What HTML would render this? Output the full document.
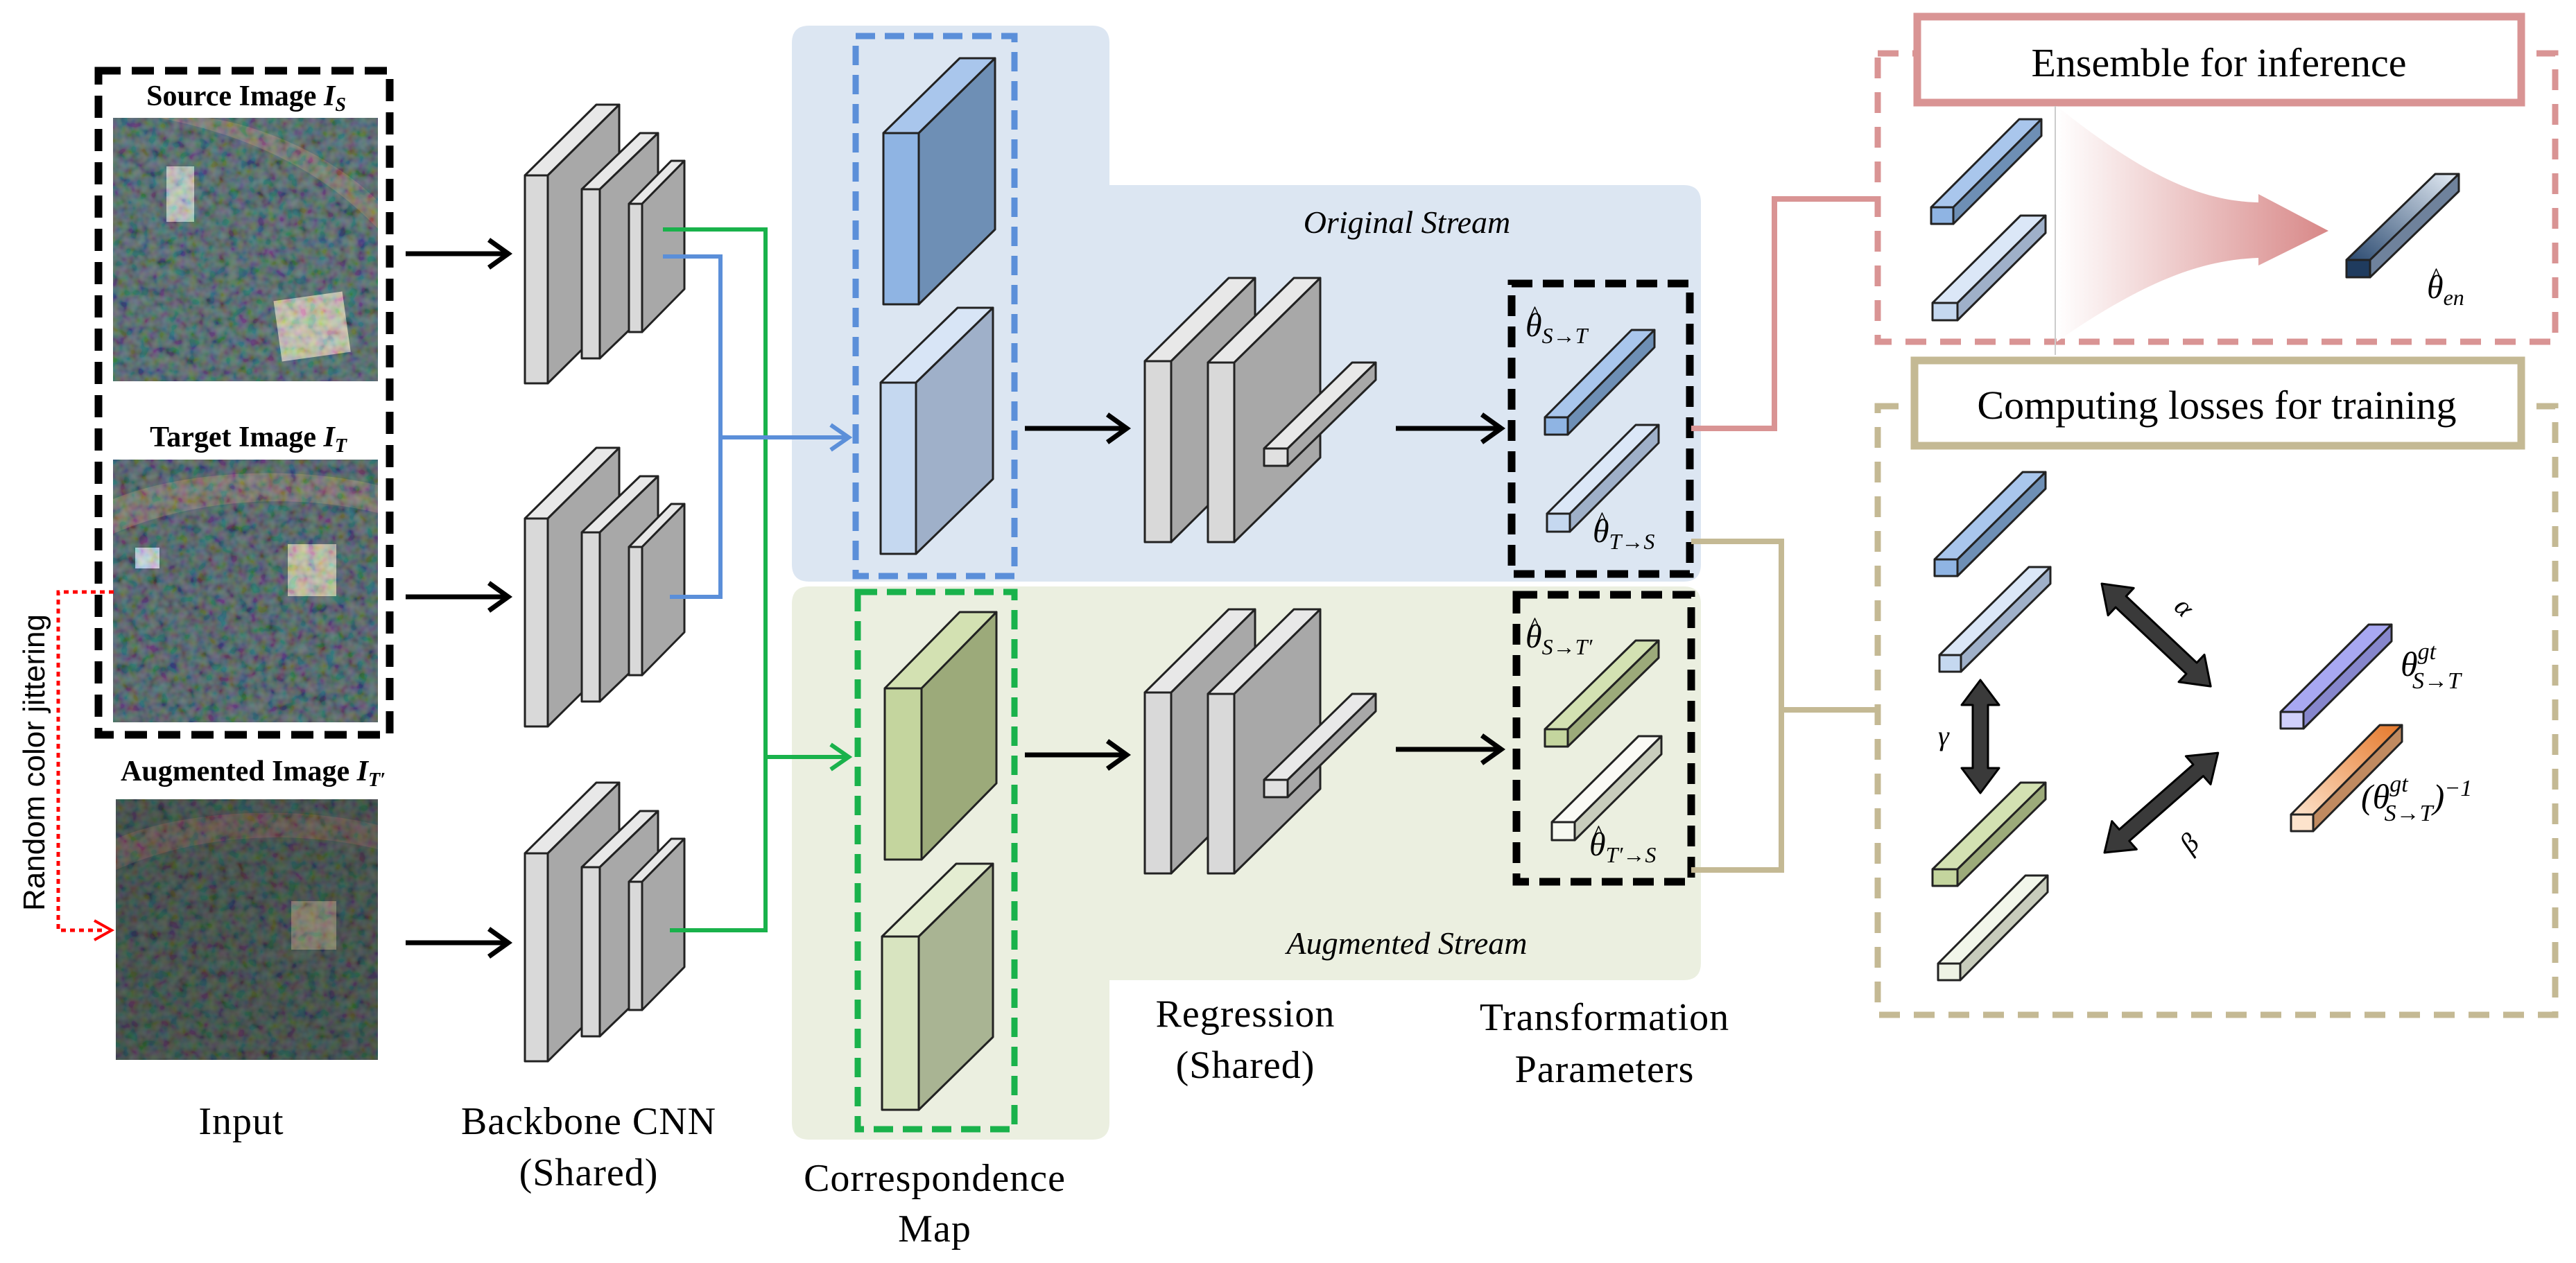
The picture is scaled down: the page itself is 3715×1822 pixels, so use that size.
<!DOCTYPE html>
<html><head><meta charset="utf-8"><style>
html,body{margin:0;padding:0;background:#fff}
svg{display:block}
svg text{font-family:"Liberation Serif","Times New Roman","DejaVu Serif",serif}
svg text.sans{font-family:"Liberation Sans","DejaVu Sans",sans-serif}
</style></head><body>
<svg width="3715" height="1822" viewBox="0 0 3715 1822" xmlns="http://www.w3.org/2000/svg">
<defs>
<filter id="tex" x="0" y="0" width="100%" height="100%">
<feTurbulence type="fractalNoise" baseFrequency="0.07" numOctaves="2" seed="4"/>
<feColorMatrix type="matrix" values="1.1 0 0 0 -0.35  0 1.2 0 0 -0.3  0 0 1.3 0 -0.3  0 0 0 0 0.3"/>
</filter>
<linearGradient id="pinkArrow" x1="0" x2="1" y1="0" y2="0">
<stop offset="0" stop-color="#ffffff"/><stop offset="1" stop-color="#d88888"/></linearGradient>
<linearGradient id="navy" x1="0" x2="1" y1="1" y2="0">
<stop offset="0" stop-color="#2b4a70"/><stop offset="1" stop-color="#e4ecf5"/></linearGradient>
<linearGradient id="orng" x1="0" x2="1" y1="1" y2="0">
<stop offset="0" stop-color="#fde3cc"/><stop offset="1" stop-color="#e5782a"/></linearGradient>
<g id="cnn" stroke="#222" stroke-width="3" stroke-linejoin="round">
<polygon points="757,253 860,151 893,151 790,253" fill="#e8e8e8"/>
<polygon points="790,253 893,151 893,451 790,553" fill="#a8a8a8"/>
<rect x="757" y="253" width="33" height="300" fill="#d9d9d9"/>
<polygon points="839,273 923,192 949,192 865,273" fill="#e8e8e8"/>
<polygon points="865,273 949,192 949,436 865,517" fill="#a8a8a8"/>
<rect x="839" y="273" width="26" height="244" fill="#d9d9d9"/>
<polygon points="907,294 968,232 987,232 926,294" fill="#e8e8e8"/>
<polygon points="926,294 987,232 987,417 926,479" fill="#a8a8a8"/>
<rect x="907" y="294" width="19" height="185" fill="#d9d9d9"/>
</g>
<g id="reg" stroke="#222" stroke-width="3" stroke-linejoin="round">
<polygon points="1651,521 1772,401 1810,401 1689,521" fill="#e8e8e8"/>
<polygon points="1689,521 1810,401 1810,662 1689,782" fill="#a8a8a8"/>
<rect x="1651" y="521" width="38" height="261" fill="#d9d9d9"/>
<polygon points="1742,523 1866,401 1904,401 1780,523" fill="#e8e8e8"/>
<polygon points="1780,523 1904,401 1904,660 1780,782" fill="#a8a8a8"/>
<rect x="1742" y="523" width="38" height="259" fill="#d9d9d9"/>
<polygon points="1823,647 1950,523 1984,523 1857,647" fill="#e8e8e8"/>
<polygon points="1857,647 1984,523 1984,548 1857,672" fill="#a8a8a8"/>
<rect x="1823" y="647" width="34" height="25" fill="#e0e0e0"/>
</g>
</defs>

<path d="M1167,37 H1575 Q1600,37 1600,62 V267 H2428 Q2453,267 2453,292 V814 Q2453,839 2428,839 H1167 Q1142,839 1142,814 V62 Q1142,37 1167,37 Z" fill="#dce6f2"/>
<path d="M1167,846 H2428 Q2453,846 2453,871 V1389 Q2453,1414 2428,1414 H1600 V1619 Q1600,1644 1575,1644 H1167 Q1142,1644 1142,1619 V871 Q1142,846 1167,846 Z" fill="#ebefe0"/>

<g>
<rect x="163" y="170" width="382" height="380" fill="#4f605f"/>
<path d="M230,170 C330,190 450,230 545,330 L545,290 C470,215 360,178 300,170 Z" fill="#7d7463"/>
<rect x="400" y="427" width="100" height="88" fill="#d8cdb0" transform="rotate(-8 450 470)"/>
<rect x="240" y="240" width="40" height="80" fill="#cfd0c6"/>
<rect x="163" y="170" width="382" height="380" filter="url(#tex)"/>
</g>
<g>
<rect x="163" y="663" width="382" height="379" fill="#4c5859"/>
<path d="M163,720 C260,680 420,670 545,700 L545,740 C420,710 280,720 163,770 Z" fill="#7a6e60"/>
<rect x="415" y="785" width="70" height="75" fill="#d6c9a8"/>
<rect x="195" y="790" width="35" height="30" fill="#d8dfe8"/>
<rect x="163" y="663" width="382" height="379" filter="url(#tex)"/>
</g>
<g>
<rect x="167" y="1153" width="378" height="376" fill="#3a433b"/>
<path d="M167,1210 C260,1170 420,1160 545,1190 L545,1225 C420,1195 280,1205 167,1255 Z" fill="#5a4a40"/>
<rect x="420" y="1300" width="65" height="70" fill="#847860"/>
<rect x="167" y="1153" width="378" height="376" filter="url(#tex)" opacity="0.7"/>
</g>

<rect x="142" y="102" width="420" height="958" fill="none" stroke="#000" stroke-width="11" stroke-dasharray="32,16"/>
<g font-size="42" font-weight="bold" text-anchor="middle">
<text x="355" y="152">Source Image <tspan font-style="italic">I</tspan><tspan font-style="italic" font-size="28" dy="8">S</tspan></text>
<text x="358" y="644">Target Image <tspan font-style="italic">I</tspan><tspan font-style="italic" font-size="28" dy="8">T</tspan></text>
<text x="365" y="1126">Augmented Image <tspan font-style="italic">I</tspan><tspan font-style="italic" font-size="28" dy="8">T′</tspan></text>
</g>
<text class="sans" transform="translate(64,1100) rotate(-90)" text-anchor="middle" font-size="44">Random color jittering</text>
<path d="M164,854 H84 V1342 H150" fill="none" stroke="#f00" stroke-width="5" stroke-dasharray="7,6"/>
<path d="M136,1328 L161,1342 L136,1356" fill="none" stroke="#f00" stroke-width="4"/>

<g stroke="#000" stroke-width="7" fill="none">
<path d="M585,366 H730 M705,346 L733,366 L705,386"/>
<path d="M585,861 H730 M705,841 L733,861 L705,881"/>
<path d="M585,1360 H730 M705,1340 L733,1360 L705,1380"/>
<path d="M1478,618 H1622 M1597,598 L1625,618 L1597,638"/>
<path d="M1478,1089 H1622 M1597,1069 L1625,1089 L1597,1109"/>
<path d="M2013,618 H2162 M2137,598 L2165,618 L2137,638"/>
<path d="M2013,1081 H2162 M2137,1061 L2165,1081 L2137,1101"/>
</g>

<use href="#cnn"/>
<use href="#cnn" y="495"/>
<use href="#cnn" y="978"/>

<g fill="none" stroke-width="6">
<path d="M956,331 H1104 V1342 H966" stroke="#19b24b"/>
<path d="M1104,1092 H1222 M1198,1074 L1224,1092 L1198,1110" stroke="#19b24b"/>
<path d="M956,370 H1039 V861 H966" stroke="#5b8fd9"/>
<path d="M1039,631 H1222 M1198,613 L1224,631 L1198,649" stroke="#5b8fd9"/>
</g>

<g stroke="#222" stroke-width="3" stroke-linejoin="round">
<polygon points="1274,192 1384,84 1435,84 1325,192" fill="#a9c6ec"/>
<polygon points="1325,192 1435,84 1435,331 1325,439" fill="#6e8fb5"/>
<rect x="1274" y="192" width="51" height="247" fill="#8fb4e3"/>
<polygon points="1270,552 1381,444 1432,444 1321,552" fill="#d8e5f6"/>
<polygon points="1321,552 1432,444 1432,691 1321,799" fill="#9fb0c9"/>
<rect x="1270" y="552" width="51" height="247" fill="#c5d8f0"/>
<polygon points="1276,993 1384,883 1437,883 1329,993" fill="#d3e1b2"/>
<polygon points="1329,993 1437,883 1437,1130 1329,1240" fill="#9caa7a"/>
<rect x="1276" y="993" width="53" height="247" fill="#c4d59e"/>
<polygon points="1272,1351 1379,1246 1432,1246 1325,1351" fill="#e4edd2"/>
<polygon points="1325,1351 1432,1246 1432,1496 1325,1601" fill="#a9b493"/>
<rect x="1272" y="1351" width="53" height="250" fill="#d8e4c0"/>
</g>
<rect x="1234" y="52" width="229" height="779" fill="none" stroke="#5b8fd9" stroke-width="9" stroke-dasharray="28,14"/>
<rect x="1237" y="854" width="226" height="775" fill="none" stroke="#19b24b" stroke-width="9" stroke-dasharray="28,14"/>

<use href="#reg"/>
<use href="#reg" y="478"/>

<g stroke="#222" stroke-width="3" stroke-linejoin="round">
<polygon points="2228,602 2353,476 2386,476 2261,602" fill="#a9c6ec"/>
<polygon points="2261,602 2386,476 2386,501 2261,627" fill="#6e8fb5"/>
<rect x="2228" y="602" width="33" height="25" fill="#8fb4e3"/>
<polygon points="2231,741 2359,613 2392,613 2264,741" fill="#dbe7f7"/>
<polygon points="2264,741 2392,613 2392,639 2264,767" fill="#9fb0c9"/>
<rect x="2231" y="741" width="33" height="26" fill="#c5d8f0"/>
<polygon points="2228,1052 2359,924 2392,924 2261,1052" fill="#d3e1b2"/>
<polygon points="2261,1052 2392,924 2392,949 2261,1077" fill="#9caa7a"/>
<rect x="2228" y="1052" width="33" height="25" fill="#c4d59e"/>
<polygon points="2238,1186 2363,1062 2396,1062 2271,1186" fill="#fafaf5"/>
<polygon points="2271,1186 2396,1062 2396,1088 2271,1212" fill="#c8ccbc"/>
<rect x="2238" y="1186" width="33" height="26" fill="#f6f8f0"/>
</g>
<rect x="2180" y="409" width="257" height="419" fill="none" stroke="#000" stroke-width="11" stroke-dasharray="30,15"/>
<rect x="2187" y="858" width="252" height="414" fill="none" stroke="#000" stroke-width="11" stroke-dasharray="30,15"/>
<g font-style="italic" font-size="48">
<text x="2200" y="485">θ<tspan font-size="32" dy="10">S→T</tspan></text>
<text x="2297" y="782">θ<tspan font-size="32" dy="10">T→S</tspan></text>
<text x="2200" y="934">θ<tspan font-size="32" dy="10">S→T′</tspan></text>
<text x="2292" y="1234">θ<tspan font-size="32" dy="10">T′→S</tspan></text>
<text x="3500" y="430">θ<tspan font-size="32" dy="10">en</tspan></text>
</g>
<g font-size="36">
<text x="2205" y="466">^</text>
<text x="2302" y="763">^</text>
<text x="2205" y="915">^</text>
<text x="2297" y="1215">^</text>
<text x="3505" y="411">^</text>
</g>
<text x="2029" y="336" text-anchor="middle" font-size="46" font-style="italic">Original Stream</text>
<text x="2029" y="1376" text-anchor="middle" font-size="46" font-style="italic">Augmented Stream</text>

<g font-size="56" text-anchor="middle" letter-spacing="1">
<text x="348" y="1636">Input</text>
<text x="849" y="1636">Backbone CNN</text>
<text x="849" y="1710">(Shared)</text>
<text x="1348" y="1718">Correspondence</text>
<text x="1348" y="1791">Map</text>
<text x="1796" y="1481">Regression</text>
<text x="1796" y="1555">(Shared)</text>
<text x="2314" y="1486">Transformation</text>
<text x="2314" y="1561">Parameters</text>
</g>

<path d="M2439,618 H2559 V287 H2708" fill="none" stroke="#d99494" stroke-width="8"/>
<path d="M2439,781 H2569 V1255 H2439 M2569,1024 H2708" fill="none" stroke="#c4b994" stroke-width="8"/>

<rect x="2708" y="77" width="977" height="416" fill="none" stroke="#d99494" stroke-width="9" stroke-dasharray="30,20"/>
<rect x="2765" y="24" width="871" height="124" fill="#fff" stroke="#d99494" stroke-width="11"/>
<text x="3200" y="110" text-anchor="middle" font-size="58">Ensemble for inference</text>
<line x1="2964" y1="153" x2="2964" y2="512" stroke="#ccc" stroke-width="2"/>
<path d="M2966,153 C3100,260 3180,290 3257,292 L3257,280 L3358,333 L3257,383 L3257,372 C3180,375 3100,400 2966,493 Z" fill="url(#pinkArrow)"/>
<g stroke="#222" stroke-width="3" stroke-linejoin="round">
<polygon points="2785,299 2912,172 2944,172 2817,299" fill="#a9c6ec"/>
<polygon points="2817,299 2944,172 2944,196 2817,323" fill="#6e8fb5"/>
<rect x="2785" y="299" width="32" height="24" fill="#8fb4e3"/>
<polygon points="2787,437 2914,311 2950,311 2823,437" fill="#dbe7f7"/>
<polygon points="2823,437 2950,311 2950,336 2823,462" fill="#9fb0c9"/>
<rect x="2787" y="437" width="36" height="25" fill="#c5d8f0"/>
<polygon points="3384,375 3512,251 3546,251 3418,375" fill="url(#navy)"/>
<polygon points="3418,375 3546,251 3546,276 3418,400" fill="#6f829c"/>
<rect x="3384" y="375" width="34" height="25" fill="#1f3b5e"/>
</g>

<rect x="2708" y="586" width="977" height="878" fill="none" stroke="#c4b994" stroke-width="9" stroke-dasharray="30,20"/>
<rect x="2761" y="520" width="875" height="123" fill="#fff" stroke="#c4b994" stroke-width="11"/>
<text x="3197" y="604" text-anchor="middle" font-size="58">Computing losses for training</text>
<g stroke="#222" stroke-width="3" stroke-linejoin="round">
<polygon points="2790,807 2917,681 2950,681 2823,807" fill="#a9c6ec"/>
<polygon points="2823,807 2950,681 2950,705 2823,831" fill="#6e8fb5"/>
<rect x="2790" y="807" width="33" height="24" fill="#8fb4e3"/>
<polygon points="2797,945 2926,818 2957,818 2828,945" fill="#dbe7f7"/>
<polygon points="2828,945 2957,818 2957,842 2828,969" fill="#9fb0c9"/>
<rect x="2797" y="945" width="31" height="24" fill="#c5d8f0"/>
<polygon points="2787,1254 2914,1129 2950,1129 2823,1254" fill="#d3e1b2"/>
<polygon points="2823,1254 2950,1129 2950,1153 2823,1278" fill="#9caa7a"/>
<rect x="2787" y="1254" width="36" height="24" fill="#c4d59e"/>
<polygon points="2795,1390 2921,1263 2953,1263 2827,1390" fill="#f2f6ea"/>
<polygon points="2827,1390 2953,1263 2953,1287 2827,1414" fill="#c8ccbc"/>
<rect x="2795" y="1390" width="32" height="24" fill="#eef2e4"/>
<polygon points="3289,1027 3416,901 3449,901 3322,1027" fill="#a8a8f2"/>
<polygon points="3322,1027 3449,901 3449,925 3322,1051" fill="#8686cc"/>
<rect x="3289" y="1027" width="33" height="24" fill="#d0d0fa"/>
<polygon points="3304,1175 3432,1046 3464,1046 3336,1175" fill="url(#orng)"/>
<polygon points="3336,1175 3464,1046 3464,1070 3336,1199" fill="#c08a60"/>
<rect x="3304" y="1175" width="32" height="24" fill="#fde3cc"/>
</g>
<g fill="#3a3a3a" stroke="#000" stroke-width="3" stroke-linejoin="round">
<polygon transform="translate(3031,842) rotate(43.3)" points="0,0 38,-27 38,-11 178,-11 178,-27 216,0 178,27 178,11 38,11 38,27"/>
<polygon transform="translate(3035,1230) rotate(-41.3)" points="0,0 38,-27 38,-11 180,-11 180,-27 218,0 180,27 180,11 38,11 38,27"/>
<polygon transform="translate(2856,981) rotate(90)" points="0,0 36,-27 36,-11 127,-11 127,-27 163,0 127,27 127,11 36,11 36,27"/>
</g>
<g font-style="italic" font-size="40">
<text x="3140" y="890" transform="rotate(45 3152 876)">α</text>
<text x="3146" y="1230" transform="rotate(-45 3156 1215)">β</text>
<text x="2795" y="1075">γ</text>
</g>
<g font-style="italic" font-size="50">
<text x="3462" y="975">θ<tspan font-size="34" dy="-24">gt</tspan><tspan font-size="34" dx="-34" dy="42">S→T</tspan></text>
<text x="3405" y="1166">(θ<tspan font-size="34" dy="-24">gt</tspan><tspan font-size="34" dx="-34" dy="42">S→T</tspan><tspan dy="-18">)</tspan><tspan font-size="34" dy="-18">−1</tspan></text>
</g>
</svg>
</body></html>
